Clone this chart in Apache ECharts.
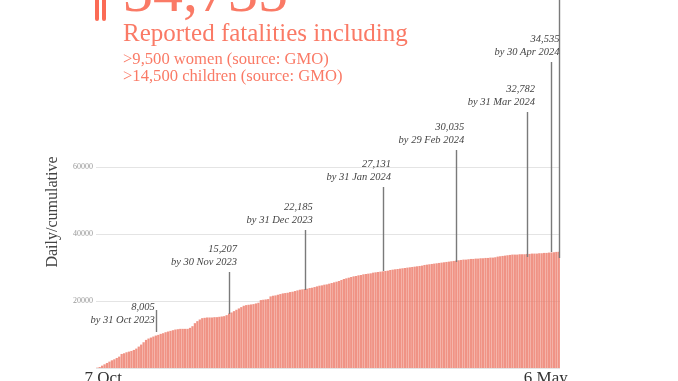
<!DOCTYPE html>
<html>
<head>
<meta charset="utf-8">
<style>
  html, body { margin: 0; padding: 0; background: #fff; overflow: hidden; }
  #chart { width: 678px; height: 381px; }
</style>
<script src="https://cdn.jsdelivr.net/npm/echarts@6/dist/echarts.min.js"></script>
</head>
<body>
<div id="chart"></div>
<script>
// cumulative fatalities per reported day
const barValues = [
  100, 300, 700, 1100, 1500, 1900, 2300, 2600, 3000, 3400,
  4200, 4400, 4700, 4900, 5100, 5400, 5800, 6400, 7000, 7700,
  8400, 8800, 9100, 9400, 9700, 9900, 10200, 10400, 10700, 10900,
  11100, 11300, 11500, 11600, 11700, 11700, 11700, 11700, 12000, 12500,
  13400, 14000, 14500, 14900, 15000, 15100, 15100, 15100, 15200, 15200,
  15300, 15400, 15500, 15800, 16300, 16600, 17000, 17400, 17800, 18200,
  18600, 18800, 18900, 19000, 19100, 19300, 19500, 20300, 20400, 20500,
  20600, 21400, 21600, 21700, 21900, 22100, 22300, 22400, 22500, 22700,
  22800, 23000, 23200, 23400, 23500, 23600, 23700, 23900, 24000, 24200,
  24400, 24600, 24700, 24900, 25000, 25200, 25400, 25600, 25800, 26000,
  26300, 26600, 26800, 27000, 27200, 27400, 27500, 27700, 27800, 28000,
  28100, 28200, 28300, 28500, 28600, 28700, 28800, 28900, 29000, 29100,
  29300, 29400, 29500, 29600, 29700, 29800, 29900, 30000, 30100, 30200,
  30300, 30400, 30500, 30600, 30800, 30900, 31000, 31100, 31200, 31300,
  31400, 31500, 31600, 31700, 31800, 31900, 32000, 32100, 32200, 32300,
  32400, 32400, 32500, 32600, 32600, 32700, 32700, 32800, 32800, 32900,
  32900, 33000, 33000, 33100, 33300, 33400, 33500, 33600, 33700, 33800,
  33900, 33900, 33900, 34000, 34000, 34000, 34100, 34100, 34200, 34200,
  34200, 34300, 34300, 34400, 34400, 34500, 34535, 34600, 34700, 34735,
];
const firstLabel = "7 Oct";
const lastLabel = "6 May";

// the month-end call-outs: which bar, how far the line runs, what it says
const markerBars = [24, 54, 85, 117, 147, 176, 186, 189];
const markerBottoms = [10760, 16140, 23310, 28990, 31680, 33180, 34670, 32880];
const markerTops = [17340, 28700, 41250, 54100, 65160, 76520, 91460, 110000];
const markerCounts = ["8,005", "15,207", "22,185", "27,131", "30,035", "32,782", "34,535", ""];
const markerDates = [
  "by 31 Oct 2023", "by 30 Nov 2023", "by 31 Dec 2023", "by 31 Jan 2024",
  "by 29 Feb 2024", "by 31 Mar 2024", "by 30 Apr 2024", "",
];

const serif = '"Liberation Serif", serif';
const coral = "#fa7a66";
const categories = barValues.map((_, i) =>
  i === 0 ? firstLabel : i === barValues.length - 1 ? lastLabel : String(i),
);

const chart = echarts.init(document.getElementById("chart"), null, { renderer: "canvas" });
chart.setOption({
  animation: false,
  backgroundColor: "#fff",
  grid: { left: 96, right: 118, top: 0, bottom: 13, outerBoundsMode: "none" },
  xAxis: {
    type: "category",
    data: categories,
    axisLine: { show: false },
    axisTick: { show: false },
    axisLabel: {
      interval: (i) => i === 0 || i === barValues.length - 1,
      margin: 2,
      hideOverlap: false,
      formatter: (v) => (v === firstLabel ? `{a|${v}}` : `{b|${v}}`),
      rich: {
        a: { fontFamily: serif, fontSize: 17, color: "#333", padding: [0, 0, 0, 12] },
        b: { fontFamily: serif, fontSize: 17, color: "#333", padding: [0, 26, 0, 0] },
      },
    },
  },
  yAxis: {
    type: "value",
    min: 0,
    max: 110000,
    interval: 20000,
    axisLine: { show: false },
    axisTick: { show: false },
    axisLabel: {
      fontFamily: serif,
      fontSize: 8,
      color: "#999",
      margin: 3,
      showMaxLabel: false,
      formatter: (v) => (v > 0 && v <= 60000 ? String(v) : ""),
    },
    splitLine: {
      lineStyle: {
        width: 1,
        color: ["#e4e4e4", "#e4e4e4", "#e4e4e4", "#e4e4e4", "transparent", "transparent", "transparent"],
      },
    },
  },
  graphic: [
    { type: "rect", shape: { x: 95, y: -6, width: 4, height: 27, r: 2 }, style: { fill: "#fb6b55" } },
    { type: "rect", shape: { x: 102, y: -6, width: 4, height: 27, r: 2 }, style: { fill: "#fb6b55" } },
    { type: "text", x: 123, y: 25.5, style: { text: "34,735", font: `60px ${serif}`, fill: coral, verticalAlign: "bottom" } },
    { type: "text", x: 123, y: 46.5, style: { text: "Reported fatalities including", font: `25px ${serif}`, fill: coral, verticalAlign: "bottom" } },
    { type: "text", x: 123, y: 68.5, style: { text: ">9,500 women (source: GMO)", font: `16.6px ${serif}`, fill: coral, verticalAlign: "bottom" } },
    { type: "text", x: 123, y: 85.5, style: { text: ">14,500 children (source: GMO)", font: `16.6px ${serif}`, fill: coral, verticalAlign: "bottom" } },
    { type: "text", x: 53, y: 212, rotation: Math.PI / 2, style: { text: "Daily/cumulative", font: `16px ${serif}`, fill: "#444", align: "center", verticalAlign: "middle" } },
  ],
  series: [
    {
      type: "bar",
      data: barValues,
      barCategoryGap: "8%",
      itemStyle: { color: "rgba(236,120,102,0.8)" },
      markLine: {
        silent: true,
        symbol: "none",
        lineStyle: { color: "#7a7a7a", width: 1.4, type: "solid" },
        label: {
          show: true,
          position: "end",
          align: "right",
          verticalAlign: "bottom",
          fontFamily: serif,
          fontStyle: "italic",
          fontSize: 10.5,
          lineHeight: 13,
          color: "#444",
          formatter: (p) => p.name,
        },
        data: markerBars.map((bar, i) => [
          {
            coord: [bar, markerBottoms[i]],
            name: markerCounts[i] ? `${markerCounts[i]}\n${markerDates[i]}` : "",
            label: i === 0 ? { offset: [-1, 22] } : { offset: [8, 2] },
          },
          { coord: [bar, markerTops[i]] },
        ]),
      },
    },
  ],
});
</script>
</body>
</html>
